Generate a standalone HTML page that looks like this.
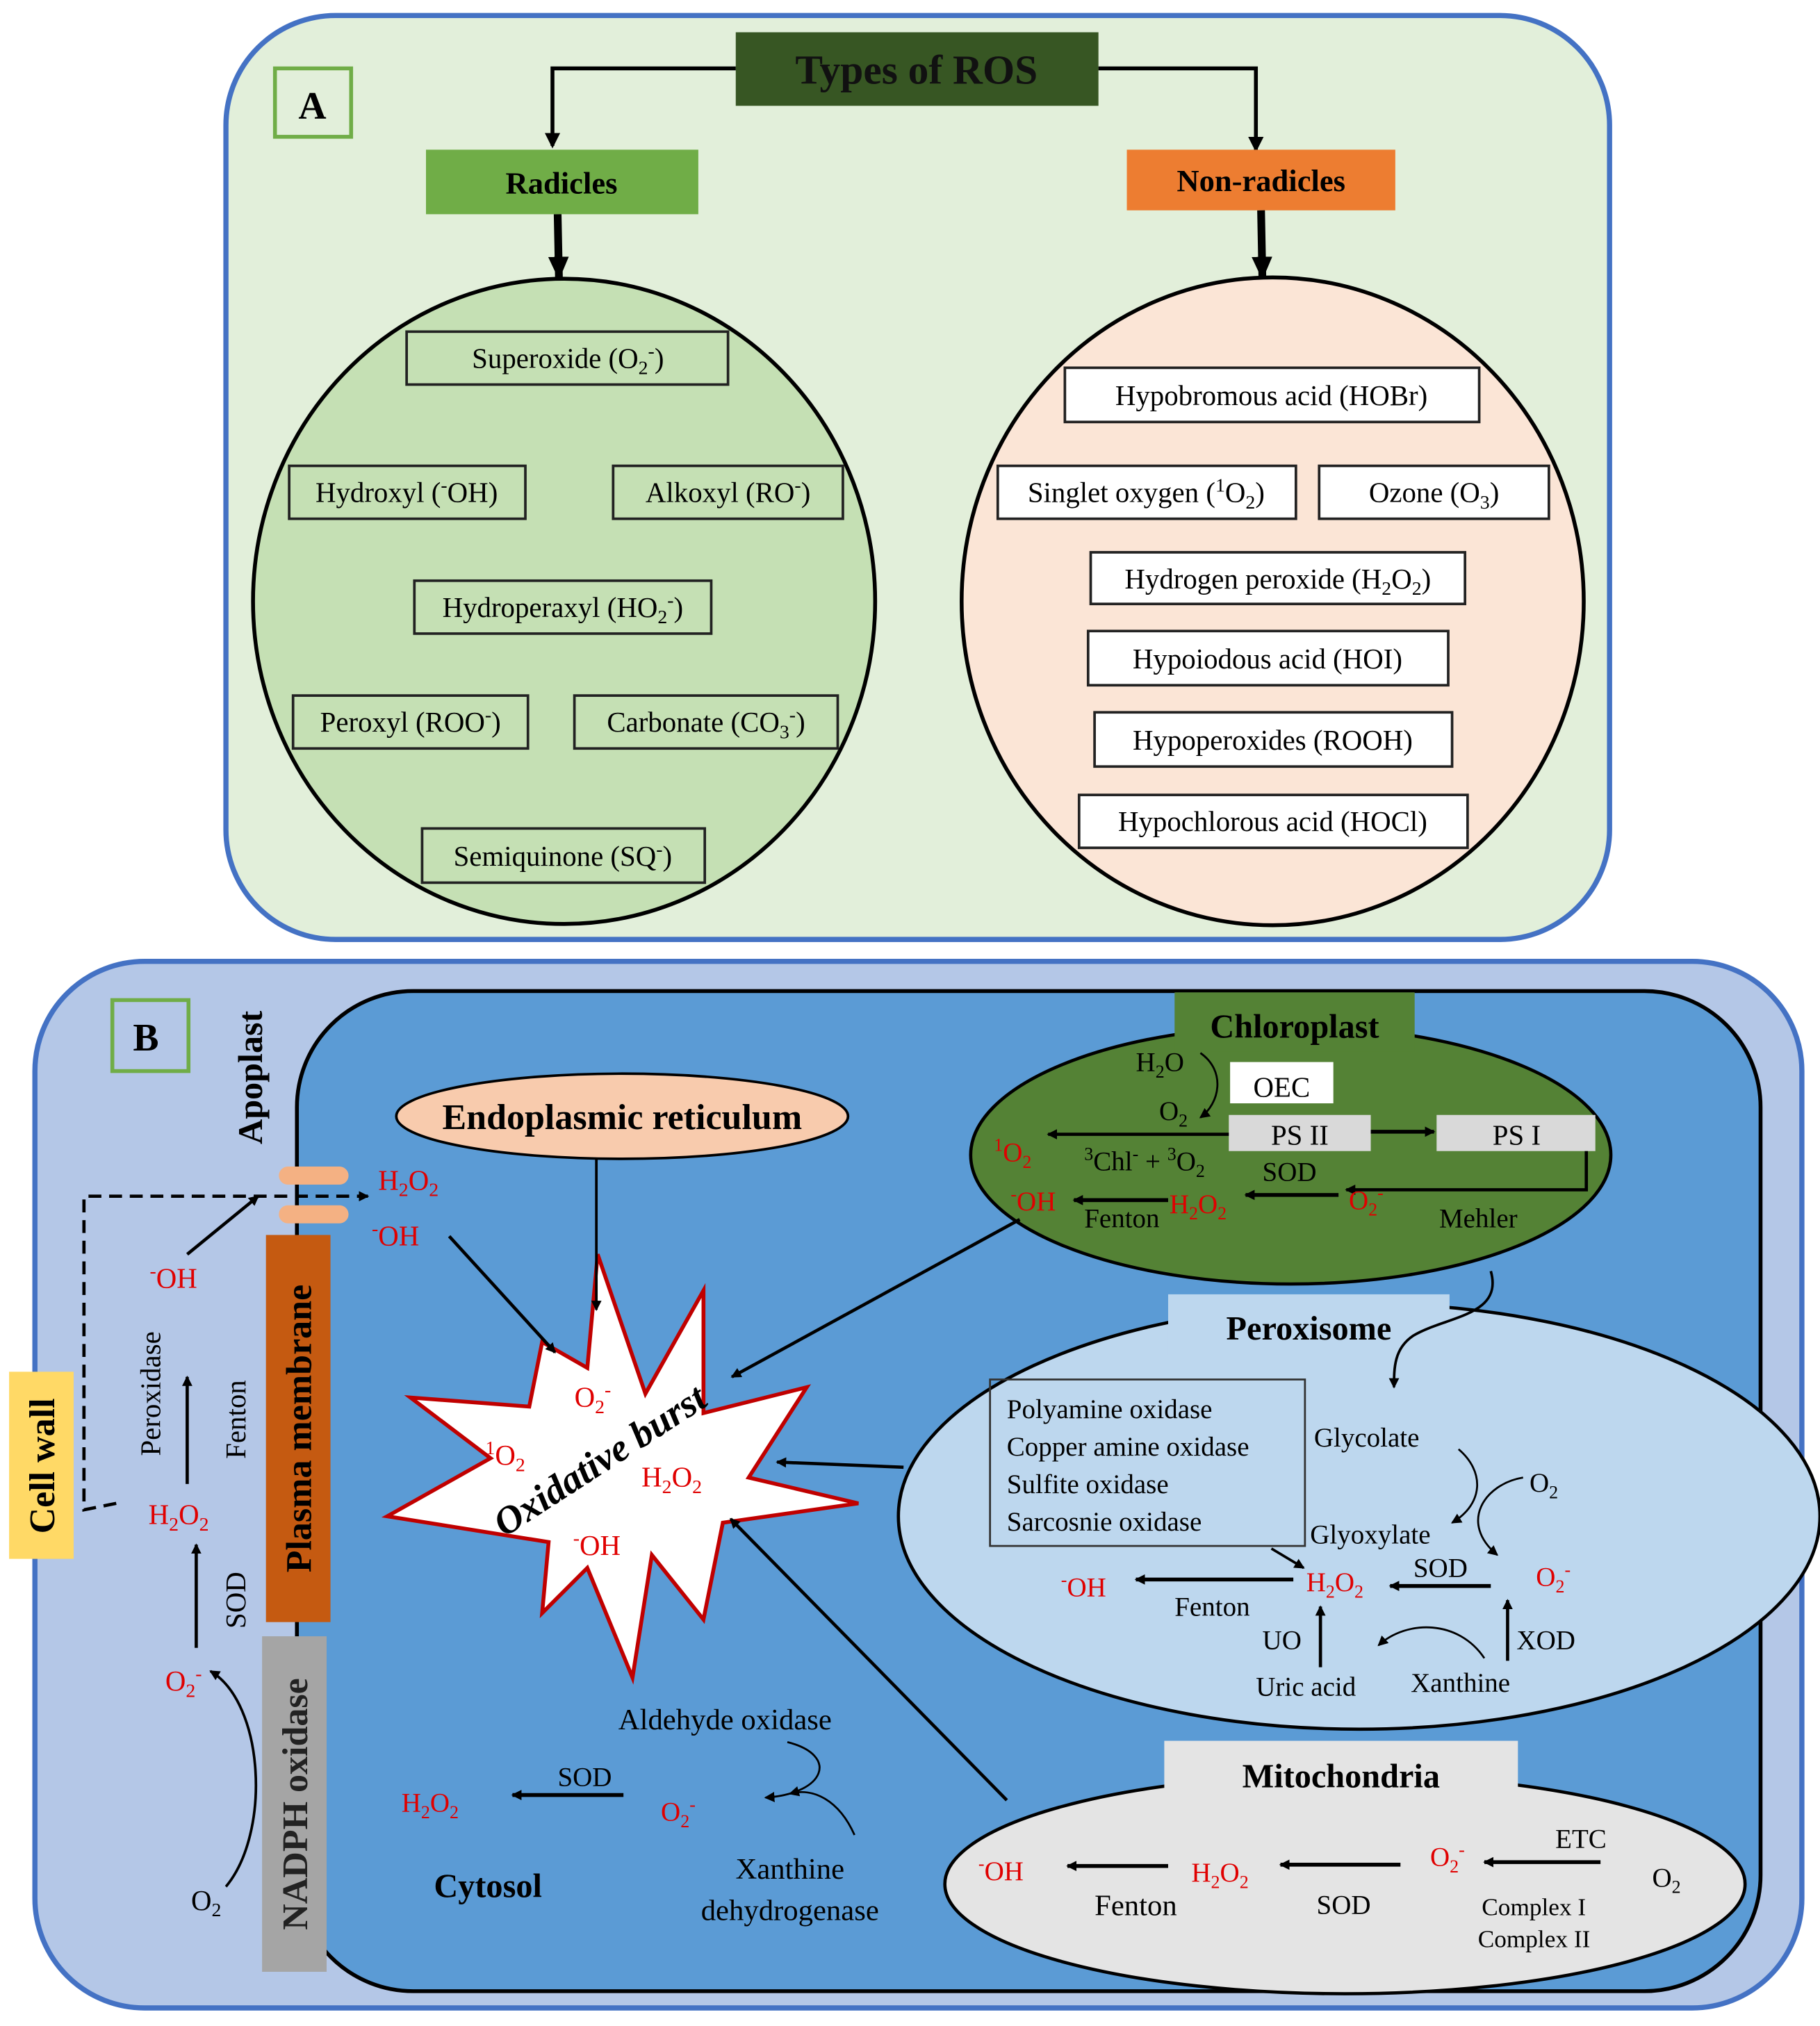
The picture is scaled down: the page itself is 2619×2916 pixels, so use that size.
<!DOCTYPE html>
<html><head><meta charset="utf-8"><style>
html,body{margin:0;padding:0;background:#fff;}
svg{display:block;}
svg, svg text, svg tspan{font-family:"Liberation Serif","DejaVu Serif",serif !important;}
.r{fill:#e00000;}
.b{font-weight:bold;}
</style></head><body>
<svg width="2619" height="2916" viewBox="0 0 1410 1570" xmlns="http://www.w3.org/2000/svg" font-family="Liberation Serif, serif">
<defs>
<marker id="ah" markerWidth="8" markerHeight="8" refX="7" refY="4" orient="auto" markerUnits="userSpaceOnUse"><path d="M0,0 L8,4 L0,8 z" fill="#000"/></marker>
<marker id="ahs" markerWidth="12" markerHeight="12" refX="10" refY="6" orient="auto" markerUnits="userSpaceOnUse"><path d="M0,0 L12,6 L0,12 z" fill="#000"/></marker>
<marker id="ahb" markerWidth="20" markerHeight="20" refX="16" refY="10" orient="auto" markerUnits="userSpaceOnUse"><path d="M0,2 L18,10 L0,18 z" fill="#000"/></marker>
</defs>
<rect width="1410" height="1570" fill="#fff"/>
<!-- Panel A -->
<rect x="175" y="12" width="1072" height="716" rx="85" fill="#e2efda" stroke="#4472c4" stroke-width="4"/>
<rect x="213" y="53" width="59" height="53" fill="#e2efda" stroke="#70ad47" stroke-width="3"/>
<text x="242" y="92" font-size="30" class="b" text-anchor="middle">A</text>
<rect x="570" y="25" width="281" height="57" fill="#375623"/>
<text x="710" y="65" font-size="32" class="b" text-anchor="middle" fill="#111">Types of ROS</text>
<path d="M570,53 H428 V113" fill="none" stroke="#000" stroke-width="3" marker-end="url(#ahs)"/>
<path d="M851,53 H973 V116" fill="none" stroke="#000" stroke-width="3" marker-end="url(#ahs)"/>
<rect x="330" y="116" width="211" height="50" fill="#70ad47"/>
<text x="435" y="150" font-size="24" class="b" text-anchor="middle">Radicles</text>
<rect x="873" y="116" width="208" height="47" fill="#ed7d31"/>
<text x="977" y="148" font-size="24" class="b" text-anchor="middle">Non-radicles</text>
<line x1="432" y1="166" x2="433" y2="215" stroke="#000" stroke-width="6" marker-end="url(#ahb)"/>
<line x1="977" y1="163" x2="978" y2="215" stroke="#000" stroke-width="6" marker-end="url(#ahb)"/>
<ellipse cx="437" cy="466" rx="241" ry="250" fill="#c5e0b4" stroke="#000" stroke-width="3"/>
<ellipse cx="986" cy="466" rx="241" ry="251" fill="#fbe5d6" stroke="#000" stroke-width="3"/>
<g fill="#c5e0b4" stroke="#222" stroke-width="2">
<rect x="315" y="257" width="249" height="41"/>
<rect x="224" y="361" width="183" height="41"/>
<rect x="475" y="361" width="178" height="41"/>
<rect x="321" y="450" width="230" height="41"/>
<rect x="227" y="539" width="182" height="41"/>
<rect x="445" y="539" width="204" height="41"/>
<rect x="327" y="642" width="219" height="42"/>
</g>
<g fill="#fff" stroke="#222" stroke-width="2">
<rect x="825" y="285" width="321" height="42"/>
<rect x="773" y="361" width="231" height="41"/>
<rect x="1022" y="361" width="178" height="41"/>
<rect x="845" y="428" width="290" height="40"/>
<rect x="843" y="489" width="279" height="42"/>
<rect x="848" y="552" width="277" height="42"/>
<rect x="836" y="616" width="301" height="41"/>
</g>
<g font-size="22" text-anchor="middle">
<text x="440" y="285">Superoxide (O<tspan font-size="15" dy="5">2</tspan><tspan font-size="15" dy="-13">-</tspan><tspan dy="8">)</tspan></text>
<text x="315" y="389">Hydroxyl (<tspan font-size="15" dy="-8">-</tspan><tspan dy="8">OH)</tspan></text>
<text x="564" y="389">Alkoxyl (RO<tspan font-size="15" dy="-8">-</tspan><tspan dy="8">)</tspan></text>
<text x="436" y="478">Hydroperaxyl (HO<tspan font-size="15" dy="5">2</tspan><tspan font-size="15" dy="-13">-</tspan><tspan dy="8">)</tspan></text>
<text x="318" y="567">Peroxyl (ROO<tspan font-size="15" dy="-8">-</tspan><tspan dy="8">)</tspan></text>
<text x="547" y="567">Carbonate (CO<tspan font-size="15" dy="5">3</tspan><tspan font-size="15" dy="-13">-</tspan><tspan dy="8">)</tspan></text>
<text x="436" y="671">Semiquinone (SQ<tspan font-size="15" dy="-8">-</tspan><tspan dy="8">)</tspan></text>
<text x="985" y="314">Hypobromous acid (HOBr)</text>
<text x="888" y="389">Singlet oxygen (<tspan font-size="15" dy="-8">1</tspan><tspan dy="8">O</tspan><tspan font-size="15" dy="5">2</tspan><tspan dy="-5">)</tspan></text>
<text x="1111" y="389">Ozone (O<tspan font-size="15" dy="5">3</tspan><tspan dy="-5">)</tspan></text>
<text x="990" y="456">Hydrogen peroxide (H<tspan font-size="15" dy="5">2</tspan><tspan dy="-5">O</tspan><tspan font-size="15" dy="5">2</tspan><tspan dy="-5">)</tspan></text>
<text x="982" y="518">Hypoiodous acid (HOI)</text>
<text x="986" y="581">Hypoperoxides (ROOH)</text>
<text x="986" y="644">Hypochlorous acid (HOCl)</text>
</g>
<!-- Panel B -->
<rect x="27" y="745" width="1369" height="811" rx="85" fill="#b4c7e7" stroke="#4472c4" stroke-width="4"/>
<rect x="230" y="768" width="1134" height="775" rx="90" fill="#5b9bd5" stroke="#000" stroke-width="3"/>
<rect x="87" y="775" width="59" height="55" fill="#b4c7e7" stroke="#70ad47" stroke-width="3"/>
<text x="113" y="814" font-size="30" class="b" text-anchor="middle">B</text>
<text transform="translate(203,835) rotate(-90)" font-size="27" class="b" text-anchor="middle">Apoplast</text>
<rect x="7" y="1063" width="50" height="145" fill="#ffd966"/>
<text transform="translate(42,1136) rotate(-90)" font-size="28" class="b" text-anchor="middle">Cell wall</text>
<rect x="206" y="957" width="50" height="300" fill="#c55a11"/>
<text transform="translate(241,1107) rotate(-90)" font-size="28" class="b" text-anchor="middle">Plasma membrane</text>
<rect x="203" y="1268" width="50" height="260" fill="#a5a5a5"/>
<text transform="translate(238,1398) rotate(-90)" font-size="28" class="b" text-anchor="middle" fill="#222">NADPH oxidase</text>
<rect x="216" y="904" width="54" height="14" rx="7" fill="#f4b183"/>
<rect x="216" y="934" width="54" height="14" rx="7" fill="#f4b183"/>
<path d="M90,1165 L65,1170 V927 H285" fill="none" stroke="#000" stroke-width="2.5" stroke-dasharray="10,6" marker-end="url(#ah)"/>
<g font-size="22">
<text x="148" y="1480">O<tspan font-size="15" dy="5">2</tspan></text>
<text x="128" y="1310" class="r">O<tspan font-size="15" dy="5">2</tspan><tspan font-size="15" dy="-13">-</tspan></text>
<text x="115" y="1181" class="r">H<tspan font-size="15" dy="5">2</tspan><tspan dy="-5">O</tspan><tspan font-size="15" dy="5">2</tspan></text>
<text x="116" y="998" class="r"><tspan font-size="15" dy="-8">-</tspan><tspan dy="8">OH</tspan></text>
<text x="293" y="922" class="r">H<tspan font-size="15" dy="5">2</tspan><tspan dy="-5">O</tspan><tspan font-size="15" dy="5">2</tspan></text>
<text x="288" y="965" class="r"><tspan font-size="15" dy="-8">-</tspan><tspan dy="8">OH</tspan></text>
<text transform="translate(190,1240) rotate(-90)" text-anchor="middle">SOD</text>
<text transform="translate(124,1080) rotate(-90)" text-anchor="middle">Peroxidase</text>
<text transform="translate(190,1100) rotate(-90)" text-anchor="middle">Fenton</text>
</g>
<path d="M175,1462 C210,1420 205,1320 163,1295" fill="none" stroke="#000" stroke-width="2" marker-end="url(#ah)"/>
<line x1="152" y1="1277" x2="152" y2="1197" stroke="#000" stroke-width="2.5" marker-end="url(#ah)"/>
<line x1="145" y1="1150" x2="145" y2="1067" stroke="#000" stroke-width="2.5" marker-end="url(#ah)"/>
<line x1="145" y1="972" x2="200" y2="927" stroke="#000" stroke-width="2.5" marker-end="url(#ah)"/>
<!-- Burst -->
<polygon points="463,972 500,1080 545,1000 545,1095 625,1075 580,1145 665,1165 560,1180 545,1255 505,1205 490,1300 455,1215 420,1250 425,1195 300,1175 380,1130 318,1083 410,1090 420,1040 455,1060" fill="#fff" stroke="#c00000" stroke-width="3" stroke-linejoin="miter"/>
<text transform="translate(470,1140) rotate(-33)" font-size="30" class="b" font-style="italic" text-anchor="middle">Oxidative burst</text>
<g font-size="22" class="r">
<text x="445" y="1090">O<tspan font-size="15" dy="5">2</tspan><tspan font-size="15" dy="-13">-</tspan></text>
<text x="376" y="1135"><tspan font-size="15" dy="-8">1</tspan><tspan dy="8">O</tspan><tspan font-size="15" dy="5">2</tspan></text>
<text x="497" y="1152">H<tspan font-size="15" dy="5">2</tspan><tspan dy="-5">O</tspan><tspan font-size="15" dy="5">2</tspan></text>
<text x="444" y="1205"><tspan font-size="15" dy="-8">-</tspan><tspan dy="8">OH</tspan></text>
</g>
<line x1="348" y1="958" x2="430" y2="1048" stroke="#000" stroke-width="2.5" marker-end="url(#ah)"/>
<!-- ER -->
<ellipse cx="482" cy="865" rx="175" ry="33" fill="#f8cbad" stroke="#000" stroke-width="2"/>
<text x="482" y="875" font-size="28" class="b" text-anchor="middle">Endoplasmic reticulum</text>
<line x1="462" y1="898" x2="462" y2="1015" stroke="#000" stroke-width="2" marker-end="url(#ah)"/>
<!-- Chloroplast -->
<ellipse cx="1000" cy="895" rx="248" ry="100" fill="#548235" stroke="#000" stroke-width="2.5"/>
<rect x="910" y="769" width="186" height="46" fill="#548235"/>
<text x="1003" y="804" font-size="26" class="b" text-anchor="middle">Chloroplast</text>
<rect x="953" y="823" width="80" height="32" fill="#fff"/>
<text x="993" y="850" font-size="22" text-anchor="middle">OEC</text>
<rect x="952" y="864" width="110" height="28" fill="#d9d9d9"/>
<text x="1007" y="887" font-size="22" text-anchor="middle">PS II</text>
<rect x="1113" y="864" width="123" height="28" fill="#d9d9d9"/>
<text x="1175" y="887" font-size="22" text-anchor="middle">PS I</text>
<line x1="1062" y1="877" x2="1111" y2="877" stroke="#000" stroke-width="3" marker-end="url(#ah)"/>
<line x1="952" y1="879" x2="812" y2="879" stroke="#000" stroke-width="2.5" marker-end="url(#ah)"/>
<path d="M1229,892 V922 H1043" fill="none" stroke="#000" stroke-width="2.5" marker-end="url(#ah)"/>
<line x1="1037" y1="926" x2="965" y2="926" stroke="#000" stroke-width="3" marker-end="url(#ah)"/>
<line x1="905" y1="930" x2="832" y2="930" stroke="#000" stroke-width="3" marker-end="url(#ah)"/>
<path d="M930,816 C950,830 945,855 930,866" fill="none" stroke="#000" stroke-width="1.5" marker-end="url(#ah)"/>
<g font-size="21">
<text x="880" y="830">H<tspan font-size="14" dy="5">2</tspan><tspan dy="-5">O</tspan></text>
<text x="898" y="868">O<tspan font-size="14" dy="5">2</tspan></text>
<text x="770" y="900" class="r"><tspan font-size="14" dy="-8">1</tspan><tspan dy="8">O</tspan><tspan font-size="14" dy="5">2</tspan></text>
<text x="840" y="907"><tspan font-size="14" dy="-8">3</tspan><tspan dy="8">Chl</tspan><tspan font-size="14" dy="-8">-</tspan><tspan dy="8"> + </tspan><tspan font-size="14" dy="-8">3</tspan><tspan dy="8">O</tspan><tspan font-size="14" dy="5">2</tspan></text>
<text x="978" y="915">SOD</text>
<text x="1045" y="937" class="r">O<tspan font-size="14" dy="5">2</tspan><tspan font-size="14" dy="-13">-</tspan></text>
<text x="906" y="940" class="r">H<tspan font-size="14" dy="5">2</tspan><tspan dy="-5">O</tspan><tspan font-size="14" dy="5">2</tspan></text>
<text x="783" y="938" class="r"><tspan font-size="14" dy="-8">-</tspan><tspan dy="8">OH</tspan></text>
<text x="840" y="951">Fenton</text>
<text x="1115" y="951">Mehler</text>
</g>
<line x1="790" y1="945" x2="567" y2="1067" stroke="#000" stroke-width="2.5" marker-end="url(#ah)"/>
<!-- Peroxisome -->
<ellipse cx="1053" cy="1175" rx="357" ry="165" fill="#bdd7ee" stroke="#000" stroke-width="2.5"/>
<rect x="905" y="1003" width="218" height="47" fill="#bdd7ee"/>
<text x="1014" y="1038" font-size="26" class="b" text-anchor="middle">Peroxisome</text>
<path d="M1155,985 C1165,1020 1120,1020 1095,1035 C1080,1045 1080,1060 1080,1075" fill="none" stroke="#000" stroke-width="2" marker-end="url(#ah)"/>
<rect x="767" y="1069" width="244" height="129" fill="none" stroke="#333" stroke-width="1.5"/>
<g font-size="21">
<text x="780" y="1099">Polyamine oxidase</text>
<text x="780" y="1128">Copper amine oxidase</text>
<text x="780" y="1157">Sulfite oxidase</text>
<text x="780" y="1186">Sarcosnie oxidase</text>
<text x="1018" y="1121">Glycolate</text>
<text x="1185" y="1156">O<tspan font-size="14" dy="5">2</tspan></text>
<text x="1015" y="1196">Glyoxylate</text>
<text x="1095" y="1222">SOD</text>
<text x="1190" y="1229" class="r">O<tspan font-size="14" dy="5">2</tspan><tspan font-size="14" dy="-13">-</tspan></text>
<text x="1012" y="1233" class="r">H<tspan font-size="14" dy="5">2</tspan><tspan dy="-5">O</tspan><tspan font-size="14" dy="5">2</tspan></text>
<text x="822" y="1237" class="r"><tspan font-size="14" dy="-8">-</tspan><tspan dy="8">OH</tspan></text>
<text x="910" y="1252">Fenton</text>
<text x="978" y="1278">UO</text>
<text x="973" y="1314">Uric acid</text>
<text x="1093" y="1311">Xanthine</text>
<text x="1175" y="1278">XOD</text>
</g>
<line x1="700" y1="1137" x2="602" y2="1133" stroke="#000" stroke-width="2.5" marker-end="url(#ah)"/>
<line x1="1155" y1="1229" x2="1077" y2="1229" stroke="#000" stroke-width="3" marker-end="url(#ah)"/>
<line x1="1002" y1="1224" x2="880" y2="1224" stroke="#000" stroke-width="3" marker-end="url(#ah)"/>
<line x1="1023" y1="1292" x2="1023" y2="1245" stroke="#000" stroke-width="2.5" marker-end="url(#ah)"/>
<line x1="1168" y1="1287" x2="1168" y2="1240" stroke="#000" stroke-width="2.5" marker-end="url(#ah)"/>
<line x1="985" y1="1200" x2="1010" y2="1215" stroke="#000" stroke-width="2" marker-end="url(#ah)"/>
<path d="M1130,1123 C1150,1140 1150,1165 1125,1180" fill="none" stroke="#000" stroke-width="1.5" marker-end="url(#ah)"/>
<path d="M1180,1145 C1150,1150 1130,1180 1160,1205" fill="none" stroke="#000" stroke-width="1.5" marker-end="url(#ah)"/>
<path d="M1150,1285 C1130,1255 1090,1255 1068,1275" fill="none" stroke="#000" stroke-width="1.5" marker-end="url(#ah)"/>
<!-- Mitochondria -->
<ellipse cx="1042" cy="1460" rx="310" ry="85" fill="#e4e4e4" stroke="#000" stroke-width="2.5"/>
<rect x="902" y="1349" width="274" height="49" fill="#e4e4e4"/>
<text x="1039" y="1385" font-size="26" class="b" text-anchor="middle">Mitochondria</text>
<line x1="905" y1="1446" x2="827" y2="1446" stroke="#000" stroke-width="3" marker-end="url(#ah)"/>
<line x1="1085" y1="1445" x2="992" y2="1445" stroke="#000" stroke-width="3" marker-end="url(#ah)"/>
<line x1="1240" y1="1443" x2="1150" y2="1443" stroke="#000" stroke-width="3" marker-end="url(#ah)"/>
<g font-size="21">
<text x="758" y="1457" class="r"><tspan font-size="14" dy="-8">-</tspan><tspan dy="8">OH</tspan></text>
<text x="923" y="1458" class="r">H<tspan font-size="14" dy="5">2</tspan><tspan dy="-5">O</tspan><tspan font-size="14" dy="5">2</tspan></text>
<text x="1108" y="1446" class="r">O<tspan font-size="14" dy="5">2</tspan><tspan font-size="14" dy="-13">-</tspan></text>
<text x="1205" y="1432">ETC</text>
<text x="1280" y="1462">O<tspan font-size="14" dy="5">2</tspan></text>
<text x="848" y="1484" font-size="23">Fenton</text>
<text x="1020" y="1483">SOD</text>
<text x="1148" y="1484" font-size="19">Complex I</text>
<text x="1145" y="1509" font-size="19">Complex II</text>
</g>
<line x1="780" y1="1395" x2="566" y2="1177" stroke="#000" stroke-width="2.5" marker-end="url(#ah)"/>
<!-- Cytosol -->
<g font-size="23">
<text x="479" y="1340">Aldehyde oxidase</text>
<text x="512" y="1411" class="r" font-size="21">O<tspan font-size="14" dy="5">2</tspan><tspan font-size="14" dy="-13">-</tspan></text>
<text x="432" y="1384" font-size="21">SOD</text>
<text x="311" y="1404" class="r" font-size="21">H<tspan font-size="14" dy="5">2</tspan><tspan dy="-5">O</tspan><tspan font-size="14" dy="5">2</tspan></text>
<text x="612" y="1456" text-anchor="middle">Xanthine</text>
<text x="612" y="1488" text-anchor="middle">dehydrogenase</text>
<text x="378" y="1470" font-size="26" class="b" text-anchor="middle">Cytosol</text>
</g>
<line x1="483" y1="1391" x2="397" y2="1391" stroke="#000" stroke-width="3" marker-end="url(#ah)"/>
<path d="M610,1350 C650,1360 640,1390 593,1393" fill="none" stroke="#000" stroke-width="1.5" marker-end="url(#ah)"/>
<path d="M662,1422 C650,1395 630,1385 612,1390" fill="none" stroke="#000" stroke-width="1.5" marker-end="url(#ah)"/>
</svg>
</body></html>
